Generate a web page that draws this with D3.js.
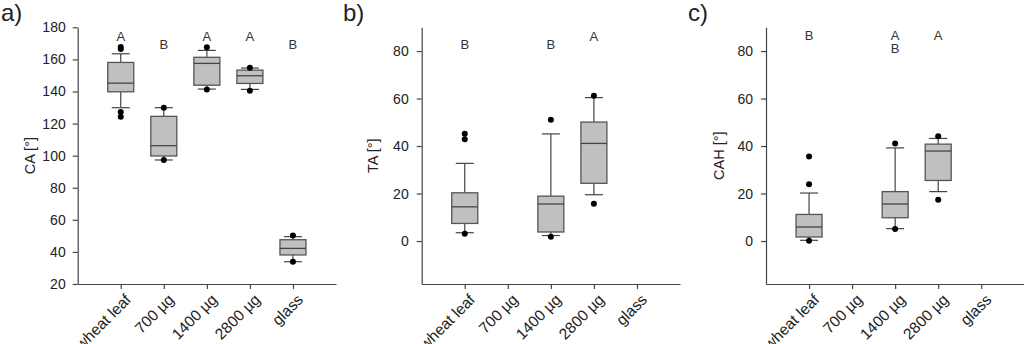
<!DOCTYPE html>
<html><head><meta charset="utf-8">
<script src="https://cdn.jsdelivr.net/npm/d3@7"></script>
<style>body{margin:0;background:#fff}svg{display:block;font-family:"Liberation Sans",Arial,sans-serif}</style>
</head><body><svg id="c" width="1024" height="344"></svg>
<script>
const categories = ["wheat leaf", "700 µg", "1400 µg", "2800 µg", "glass"];

// Panel a: CA
const caQ1 = [139.8, 99.8, 143.9, 145.0, 38.1];
const caMed = [145.2, 106.2, 157.5, 149.8, 42.2];
const caQ3 = [158.1, 124.5, 161.3, 153.3, 47.6];
const caWLo = [129.9, 97.3, 141.5, 141.3, 33.9];
const caWHi = [163.5, 129.9, 165.6, 154.6, 49.5];
const caOut = [[167.7, 166.4, 127.2, 124.3], [129.9, 97.3], [167.5, 141.3], [154.8, 140.4], [50.3, 33.9]];
const caLetters = [["A"], ["B"], ["A"], ["A"], ["B"]];
const caLetterY = [174.5, 169.3, 174.5, 174.5, 169.3];
const caTicks = [20, 40, 60, 80, 100, 120, 140, 160, 180];

// Panel b: TA
const taQ1 = [7.4, null, 3.8, 24.3, null];
const taMed = [14.4, null, 15.6, 41.1, null];
const taQ3 = [20.3, null, 18.9, 50.1, null];
const taWLo = [3.5, null, 2.3, 19.5, null];
const taWHi = [32.7, null, 45.1, 60.4, null];
const taOut = [[45.2, 42.9, 3.1], [], [51.1, 1.8], [61.2, 15.7], []];
const taLetters = [["B"], [], ["B"], ["A"], []];
const taLetterY = [82.7, null, 82.7, 86.3, null];
const taTicks = [0, 20, 40, 60, 80];

// Panel c: CAH
const cahQ1 = [1.7, null, 9.8, 25.5, null];
const cahMed = [5.9, null, 15.6, 37.9, null];
const cahQ3 = [11.2, null, 20.8, 40.8, null];
const cahWLo = [0.3, null, 5.2, 20.8, null];
const cahWHi = [20.2, null, 39.2, 43.2, null];
const cahOut = [[35.6, 23.9, 0.1], [], [41.1, 5.1], [44.1, 17.4], []];
const cahLetters = [["B"], [], ["A", "B"], ["A"], []];
const cahLetterY = [86.4, null, 86.4, 86.4, null];
const cahTicks = [0, 20, 40, 60, 80];

const svg = d3.select("#c");

function panel(o) {
  const g = svg.append("g");
  const x = d3.scaleLinear().domain([0, 6]).range([o.x0, o.x0 + 258.3]);
  const y = d3.scaleLinear().domain(o.domain).range([284, 27.3]);
  const ya = g.append("g").attr("transform", `translate(${o.x0},0)`)
    .call(d3.axisLeft(y).tickValues(o.ticks).tickSize(5).tickPadding(o.pad).tickSizeOuter(0));
  ya.selectAll("path,line").attr("stroke", "#444").attr("stroke-width", 1.2);
  ya.selectAll("text").attr("font-size", 14).attr("fill", "#222").attr("font-family", "Liberation Sans, Arial, sans-serif");
  const xa = g.append("g").attr("transform", "translate(0,284)")
    .call(d3.axisBottom(x).tickValues([1, 2, 3, 4, 5]).tickFormat(i => categories[i - 1]).tickSize(5).tickSizeOuter(0));
  xa.selectAll("path,line").attr("stroke", "#444").attr("stroke-width", 1.2);
  xa.selectAll("text").attr("font-size", 15.5).attr("fill", "#222").attr("font-family", "Liberation Sans, Arial, sans-serif")
    .attr("text-anchor", "end").attr("dy", 0).attr("transform", "translate(5,11) rotate(-45)");
  g.append("text").attr("transform", `translate(${o.labelX},${y((o.domain[0] + o.domain[1]) / 2)}) rotate(-90)`)
    .attr("text-anchor", "middle").attr("dy", "0.35em").attr("font-size", 14.5).attr("fill", "#222").text(o.label);
  g.append("text").attr("x", o.tagX).attr("y", 21).attr("font-size", 24).attr("fill", "#222").text(o.tag);
  const bw = 26, cw = 18;
  categories.forEach((c, i) => {
    const cx = x(i + 1);
    if (o.q1[i] != null) {
      const wl = g.append("g").attr("stroke", "#444").attr("stroke-width", 1.2);
      wl.append("line").attr("x1", cx).attr("x2", cx).attr("y1", y(o.q3[i])).attr("y2", y(o.wHi[i]));
      wl.append("line").attr("x1", cx).attr("x2", cx).attr("y1", y(o.q1[i])).attr("y2", y(o.wLo[i]));
      wl.append("line").attr("x1", cx - cw / 2).attr("x2", cx + cw / 2).attr("y1", y(o.wHi[i])).attr("y2", y(o.wHi[i]));
      wl.append("line").attr("x1", cx - cw / 2).attr("x2", cx + cw / 2).attr("y1", y(o.wLo[i])).attr("y2", y(o.wLo[i]));
      g.append("rect").attr("x", cx - bw / 2).attr("width", bw)
        .attr("y", y(o.q3[i])).attr("height", y(o.q1[i]) - y(o.q3[i]))
        .attr("fill", "#c0c0c0").attr("stroke", "#555").attr("stroke-width", 1.3);
      g.append("line").attr("x1", cx - bw / 2).attr("x2", cx + bw / 2).attr("y1", y(o.med[i])).attr("y2", y(o.med[i]))
        .attr("stroke", "#444").attr("stroke-width", 1.3);
    }
    o.out[i].forEach(v => {
      g.append("circle").attr("cx", cx).attr("cy", y(v)).attr("r", 3).attr("fill", "#000");
    });
    o.letters[i].forEach((L, k) => {
      g.append("text").attr("x", cx).attr("y", y(o.letterY[i]) + k * 13).attr("dy", "0.35em")
        .attr("text-anchor", "middle").attr("font-size", 13).attr("fill", "#333").text(L);
    });
  });
}

panel({x0: 77.7, domain: [20, 180], ticks: caTicks, pad: 7, label: "CA [°]", labelX: 30, tag: "a)", tagX: 1,
  q1: caQ1, med: caMed, q3: caQ3, wLo: caWLo, wHi: caWHi, out: caOut, letters: caLetters, letterY: caLetterY});
panel({x0: 421.7, domain: [-18.1, 90], ticks: taTicks, pad: 8, label: "TA [°]", labelX: 373, tag: "b)", tagX: 343,
  q1: taQ1, med: taMed, q3: taQ3, wLo: taWLo, wHi: taWHi, out: taOut, letters: taLetters, letterY: taLetterY});
panel({x0: 766, domain: [-18.1, 90], ticks: cahTicks, pad: 8, label: "CAH [°]", labelX: 719, tag: "c)", tagX: 688,
  q1: cahQ1, med: cahMed, q3: cahQ3, wLo: cahWLo, wHi: cahWHi, out: cahOut, letters: cahLetters, letterY: cahLetterY});
</script></body></html>
